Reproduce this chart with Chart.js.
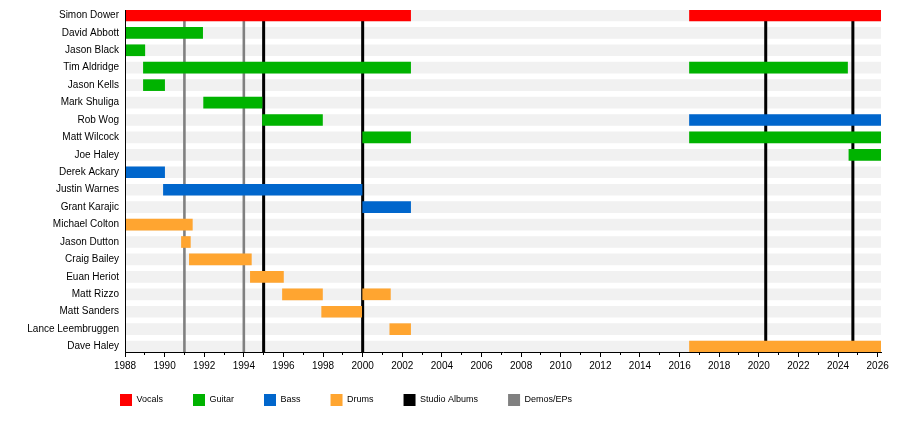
<!DOCTYPE html>
<html>
<head>
<meta charset="utf-8">
<script src="https://cdn.jsdelivr.net/npm/chart.js@4/dist/chart.umd.min.js"></script>
<style>
html,body{margin:0;padding:0;background:#fff;}
#wrap{width:900px;height:442px;position:relative;}
</style>
</head>
<body>
<div id="wrap"><canvas id="c"></canvas></div>
<script>
// ---- data ----
const members = ["Simon Dower","David Abbott","Jason Black","Tim Aldridge","Jason Kells","Mark Shuliga","Rob Wog","Matt Wilcock","Joe Haley","Derek Ackary","Justin Warnes","Grant Karajic","Michael Colton","Jason Dutton","Craig Bailey","Euan Heriot","Matt Rizzo","Matt Sanders","Lance Leembruggen","Dave Haley"];
const timelineStart = 1988;
const timelineEnd = 2026.17;
const vocals = [["Simon Dower",1988,2002.42],["Simon Dower",2016.5,2026.17]];
const guitar = [["David Abbott",1988,1991.92],["Jason Black",1988,1989.0],["Tim Aldridge",1988.93,2002.42],["Tim Aldridge",2016.5,2024.48],["Jason Kells",1988.93,1990.0],["Mark Shuliga",1991.97,1994.92],["Rob Wog",1994.94,1997.97],["Matt Wilcock",2000,2002.42],["Matt Wilcock",2016.5,2026.17],["Joe Haley",2024.55,2026.17]];
const bass = [["Rob Wog",2016.5,2026.17],["Derek Ackary",1988,1990],["Justin Warnes",1989.94,1999.97],["Grant Karajic",2000,2002.42]];
const drums = [["Michael Colton",1988,1991.4],["Jason Dutton",1990.85,1991.3],["Craig Bailey",1991.25,1994.38],["Euan Heriot",1994.33,1996.0],["Matt Rizzo",1995.95,1997.97],["Matt Rizzo",2000,2001.4],["Matt Sanders",1997.93,1999.95],["Lance Leembruggen",2001.37,2002.42],["Dave Haley",2016.5,2026.17]];
const studioAlbums = [1995, 2000, 2020.35, 2024.75];
const demosEPs = [1991, 1994];
const majorYears = [1988,1990,1992,1994,1996,1998,2000,2002,2004,2006,2008,2010,2012,2014,2016,2018,2020,2022,2024,2026];
const minorYears = [1988,1989,1990,1991,1992,1993,1994,1995,1996,1997,1998,1999,2000,2001,2002,2003,2004,2005,2006,2007,2008,2009,2010,2011,2012,2013,2014,2015,2016,2017,2018,2019,2020,2021,2022,2023,2024,2025,2026];

// ---- build ----
const yTop = -0.31, yBottom = 19.31;
const rowOf = n => members.indexOf(n);
const barData = list => list.map(([n, s, e]) => ({x: [s, e], y: rowOf(n)}));
const vLines = years => years.flatMap(yr => [{x: yr, y: yTop}, {x: yr, y: yBottom}, {x: yr, y: null}]);
const barBase = {type: 'bar', indexAxis: 'y', grouped: false, barThickness: 11, borderWidth: 0, borderSkipped: false, order: 1};
const lineBase = {type: 'line', indexAxis: 'x', pointRadius: 0, pointHoverRadius: 0, fill: false, tension: 0, spanGaps: false, order: 2, borderCapStyle: 'butt'};

Chart.defaults.font.family = '"Liberation Sans", Arial, sans-serif';
Chart.defaults.color = '#000';

const legendShift = {
  id: 'legendShift',
  afterLayout(chart) {
    const lg = chart.legend;
    if (!lg) return;
    const h = lg.bottom - lg.top;
    lg.left = 90;
    lg.top = 364;
    lg.bottom = 364 + h;
  }
};

new Chart(document.getElementById('c'), {
  type: 'bar',
  data: {
    datasets: [
      Object.assign({}, barBase, {label: 'Vocals', data: barData(vocals), backgroundColor: '#ff0000'}),
      Object.assign({}, barBase, {label: 'Guitar', data: barData(guitar), backgroundColor: '#00b300'}),
      Object.assign({}, barBase, {label: 'Bass', data: barData(bass), backgroundColor: '#0066cc'}),
      Object.assign({}, barBase, {label: 'Drums', data: barData(drums), backgroundColor: '#ffa530'}),
      Object.assign({}, lineBase, {label: 'Studio Albums', data: vLines(studioAlbums), borderColor: '#000000', backgroundColor: '#000000', borderWidth: 3}),
      Object.assign({}, lineBase, {label: 'Demos/EPs', data: vLines(demosEPs), borderColor: '#808080', backgroundColor: '#808080', borderWidth: 2.6}),
      Object.assign({}, barBase, {label: '', data: members.map((m, i) => ({x: [timelineStart, timelineEnd], y: i})), backgroundColor: '#f1f1f1', order: 3})
    ]
  },
  options: {
    responsive: true,
    maintainAspectRatio: false,
    animation: false,
    layout: {padding: {top: 10, right: 19, bottom: 16, left: 0}},
    scales: {
      x: {
        type: 'linear', min: timelineStart, max: timelineEnd, weight: 1, offset: false,
        afterBuildTicks: s => { s.ticks = majorYears.map(v => ({value: v})); },
        afterFit: s => { s.height = 22; },
        ticks: {autoSkip: false, maxRotation: 0, padding: 3, font: {size: 10}, color: '#000', callback: v => String(v)},
        grid: {offset: false, drawOnChartArea: false, drawTicks: true, tickLength: 5, tickColor: '#000', tickWidth: 1},
        border: {display: true, color: '#000', width: 1, z: 1}
      },
      x2: {
        type: 'linear', min: timelineStart, max: timelineEnd, position: 'bottom', weight: 0, offset: false,
        afterBuildTicks: s => { s.ticks = minorYears.map(v => ({value: v})); },
        afterFit: s => { s.height = 0; },
        ticks: {autoSkip: false, maxRotation: 0, callback: () => ''},
        grid: {offset: false, drawOnChartArea: false, drawTicks: true, tickLength: 3, tickColor: '#000', tickWidth: 1},
        border: {display: false}
      },
      y: {
        type: 'linear', reverse: true, min: yTop, max: yBottom, offset: false,
        afterBuildTicks: s => { s.ticks = members.map((m, i) => ({value: i})); },
        afterFit: s => { s.width = 125; s.paddingTop = 0; s.paddingBottom = 0; },
        ticks: {autoSkip: false, padding: 6, font: {size: 10}, color: '#000', callback: v => (members[v] !== undefined ? members[v] : '')},
        grid: {offset: false, display: true, drawOnChartArea: false, drawTicks: false},
        border: {display: true, color: '#000', width: 1, z: 1}
      }
    },
    plugins: {
      tooltip: {enabled: false},
      title: {display: false},
      legend: {
        display: true, position: 'bottom', align: 'start',
        labels: {
          boxWidth: 12, boxHeight: 12, padding: 30, color: '#000', font: {size: 9},
          filter: item => item.text !== '',
          generateLabels: chart => Chart.defaults.plugins.legend.labels.generateLabels(chart).map(it => Object.assign(it, {lineWidth: 0}))
        }
      }
    }
  },
  plugins: [legendShift]
});
</script>
</body>
</html>
